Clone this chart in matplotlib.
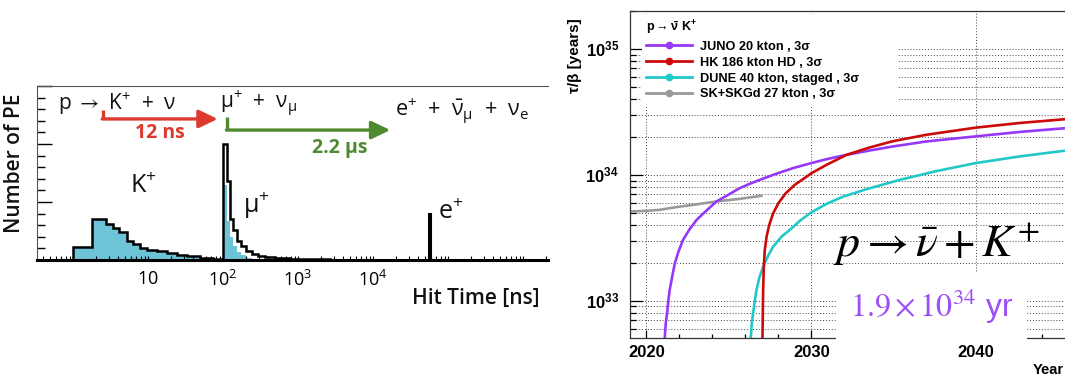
import numpy as np
import matplotlib
matplotlib.use('Agg')
import matplotlib.pyplot as plt
from matplotlib.lines import Line2D
from matplotlib.ticker import FixedLocator, LogLocator, MultipleLocator, NullFormatter, FuncFormatter

plt.rcParams['mathtext.fontset'] = 'custom'
plt.rcParams['mathtext.rm'] = 'Open Sans'
plt.rcParams['mathtext.it'] = 'Open Sans:italic'
plt.rcParams['mathtext.bf'] = 'Liberation Sans:bold'
plt.rcParams['mathtext.fallback'] = 'stixsans'

# hit time spectrum of one K+ decay event (time in ns, PE in arbitrary units)
hit_edges = [1.0, 1.77, 2.73, 3.44, 4.14, 5.2, 6.25, 7.8, 9.6, 13.1, 17.8, 24.1, 32.8, 49.4, 74, 100,
             112, 123, 135, 152, 172, 201, 241, 290, 360, 489, 774, 1430, 2640]
pe_total = [1.1, 3.55, 3.1, 2.8, 2.4, 1.6, 1.35, 1.05, 0.9, 0.75, 0.6, 0.45, 0.35, 0.2, 0.12,
            10.0, 6.8, 3.5, 2.6, 1.6, 1.2, 0.8, 0.55, 0.35, 0.25, 0.15, 0.1, 0.06]
pe_kaon = [1.1, 3.55, 3.1, 2.8, 2.4, 1.6, 1.35, 1.05, 0.9, 0.72, 0.55, 0.4, 0.28, 0.12, 0.05,
           6.5, 3.4, 2.0, 1.2, 0.7, 0.4, 0.2, 0.08, 0, 0, 0, 0, 0]
e_edges = [56000, 58500]
e_pe = [4.0]

# sensitivity to p -> nubar K+ (calendar year, tau/B in years)
juno_year = [2021.08, 2021.11, 2021.17, 2021.25, 2021.33, 2021.41, 2021.56, 2021.72, 2021.94,
             2022.22, 2022.59, 2023.04, 2023.58, 2024.25, 2024.96, 2025.66, 2026.27, 2026.88,
             2027.89, 2028.9, 2030.02, 2030.93, 2032.14, 2033.56, 2034.97, 2037.0, 2040.0,
             2042.67, 2045.5]
juno_tau = [4.0e32, 5.08e32, 6.61e32, 7.94e32, 1.01e33, 1.22e33, 1.55e33, 1.98e33, 2.45e33,
            3.04e33, 3.65e33, 4.38e33, 5.11e33, 6.14e33, 6.93e33, 7.83e33, 8.48e33, 9.12e33,
            1.02e34, 1.13e34, 1.24e34, 1.33e34, 1.44e34, 1.56e34, 1.68e34, 1.84e34, 2.02e34,
            2.19e34, 2.35e34]
hk_year = [2027.02, 2027.04, 2027.06, 2027.08, 2027.12, 2027.18, 2027.29, 2027.45, 2027.69,
           2028.01, 2028.46, 2029.0, 2030.02, 2030.93, 2032.14, 2033.56, 2034.97, 2037.0,
           2040.0, 2042.67, 2045.5]
hk_tau = [4.0e32, 5.08e32, 7.94e32, 1.22e33, 1.86e33, 2.53e33, 3.23e33, 4.0e33, 4.95e33,
          5.96e33, 7.15e33, 8.32e33, 1.03e34, 1.2e34, 1.44e34, 1.65e34, 1.85e34, 2.08e34,
          2.37e34, 2.58e34, 2.77e34]
dune_year = [2026.3, 2026.33, 2026.39, 2026.47, 2026.58, 2026.68, 2026.84, 2027.08, 2027.38,
             2027.69, 2028.2, 2028.7, 2029.31, 2029.92, 2030.93, 2031.94, 2033.36, 2035.38,
             2037.6, 2040.0, 2042.67, 2045.5]
dune_tau = [4.0e32, 5.08e32, 6.61e32, 7.94e32, 1.01e33, 1.22e33, 1.51e33, 1.86e33, 2.27e33,
            2.69e33, 3.23e33, 3.65e33, 4.31e33, 4.95e33, 5.88e33, 6.71e33, 7.69e33, 9.12e33,
            1.07e34, 1.24e34, 1.4e34, 1.56e34]
sk_year = [2018.9, 2020.0, 2020.81, 2021.82, 2022.83, 2024.25, 2025.67, 2026.98]
sk_tau = [5.1e33, 5.17e33, 5.27e33, 5.54e33, 5.77e33, 6.14e33, 6.44e33, 6.81e33]

fig = plt.figure(figsize=(10.65, 3.81), dpi=100)

# ---------------- left: hit time ----------------
ax1 = fig.add_axes([37 / 1065, 1 - 260 / 381, 511 / 1065, 174 / 381])
ax1.set_xscale('log')
ax1.set_xlim(0.331, 2.15e6)
ax1.set_ylim(0, 15)

cyan = '#6cc4d6'
ax1.stairs(pe_kaon, hit_edges, fill=True, color=cyan, lw=0)
ax1.stairs(pe_total, hit_edges, color='black', lw=1.8)
ax1.stairs(e_pe, e_edges, color='black', lw=1.5)

for s in ['top', 'left', 'right']:
    ax1.spines[s].set_color('#555555')
    ax1.spines[s].set_linewidth(0.8)
ax1.spines['right'].set_visible(False)
ax1.spines['bottom'].set_linewidth(2.2)

ax1.xaxis.set_major_locator(FixedLocator([1, 10, 100, 1e3, 1e4, 1e5, 1e6]))
ax1.xaxis.set_minor_locator(LogLocator(base=10, subs=np.arange(2, 10)))
ax1.xaxis.set_minor_formatter(NullFormatter())


def hit_label(v, pos):
    n = int(round(np.log10(v)))
    if n == 1:
        return r'$\mathrm{10}$'
    if 2 <= n <= 4:
        return r'$\mathrm{10^{%d}}$' % n
    return ''


ax1.xaxis.set_major_formatter(FuncFormatter(hit_label))
ax1.tick_params(axis='x', which='both', direction='in', length=3, width=0.8, pad=7,
                labelsize=13)
ax1.yaxis.set_major_locator(MultipleLocator(5))
ax1.yaxis.set_minor_locator(MultipleLocator(1))
ax1.tick_params(axis='y', which='major', direction='in', length=11, width=1.0, labelleft=False)
ax1.tick_params(axis='y', which='minor', direction='in', length=5.5, width=1.0)

lf = dict(family='Open Sans', color='#111111')
ax1.text(0.63, 13.5, r'p $\rightarrow$ $\mathrm{K^{+}}$  +  ν', fontsize=15, ha='left', va='center', **lf)
ax1.text(91, 13.5, r'$\mathrm{\mu^{+}}$  +  $\mathrm{\nu_{\mu}}$', fontsize=15, ha='left', va='center', **lf)
ax1.text(19600, 12.8, r'$\mathrm{e^{+}}$  +  $\mathrm{\bar{\nu}_{\mu}}$  +  $\mathrm{\nu_{e}}$',
         fontsize=15.5, ha='left', va='center', **lf)
ax1.text(5.75, 6.3, r'$\mathrm{K^{+}}$', fontsize=18, ha='left', va='center', **lf)
ax1.text(185, 4.7, r'$\mathrm{\mu^{+}}$', fontsize=18, ha='left', va='center', **lf)
ax1.text(73600, 4.1, r'$\mathrm{e^{+}}$', fontsize=18, ha='left', va='center', **lf)

red = '#dc3a2e'
green = '#4f8a30'
head = '-|>,head_length=1.15,head_width=0.55'
ax1.plot([2.5, 2.5], [12.9, 12.16], color=red, lw=2.4, solid_capstyle='butt')
ax1.annotate('', xy=(85, 12.16), xytext=(2.45, 12.16),
             arrowprops=dict(arrowstyle=head, color=red, lw=2.4, shrinkA=0, shrinkB=0))
ax1.text(14.5, 10.95, '12 ns', color=red, fontsize=14, fontweight='bold', family='Open Sans',
         ha='center', va='center')
ax1.plot([113, 113], [12.3, 11.2], color=green, lw=2.4, solid_capstyle='butt')
ax1.annotate('', xy=(17000, 11.2), xytext=(111, 11.2),
             arrowprops=dict(arrowstyle=head, color=green, lw=2.4, shrinkA=0, shrinkB=0))
ax1.text(3630, 9.66, '2.2 μs', color=green, fontsize=14, fontweight='bold', family='Open Sans',
         ha='center', va='center')

fig.text(15 / 1065, 1 - 163 / 381, 'Number of PE', rotation=90, ha='center', va='center',
         fontsize=15, family='Open Sans', fontweight='semibold', color='#111111')
fig.text(540 / 1065, 1 - 298 / 381, 'Hit Time [ns]', ha='right', va='center',
         fontsize=15, family='Open Sans', fontweight='semibold', color='#111111')

# ---------------- right: sensitivity ----------------
ax2 = fig.add_axes([630 / 1065, 1 - 338 / 381, 437.5 / 1065, 327 / 381])
ax2.set_yscale('log')
ax2.set_xlim(2019, 2045.55)
ax2.set_ylim(5.05e32, 2.0e35)
ax2.set_axisbelow(True)

gkw = dict(color='#444444', linestyle=(0, (1, 2)), linewidth=0.7)
ax2.yaxis.grid(True, which='both', **gkw)
ax2.xaxis.grid(True, which='major', **gkw)

c_juno, c_hk, c_dune, c_sk = '#9638f8', '#cc0a0a', '#22c8c8', '#999999'
ax2.plot(sk_year, sk_tau, color=c_sk, lw=1.9, zorder=2)
ax2.plot(juno_year, juno_tau, color=c_juno, lw=1.9, zorder=2)
ax2.plot(dune_year, dune_tau, color=c_dune, lw=1.9, zorder=2)
ax2.plot(hk_year, hk_tau, color=c_hk, lw=1.9, zorder=2)

ax2.xaxis.set_major_locator(MultipleLocator(10))
ax2.xaxis.set_minor_locator(MultipleLocator(2))
ax2.yaxis.set_major_locator(LogLocator(base=10, numticks=10))
ax2.yaxis.set_minor_locator(LogLocator(base=10, subs=np.arange(2, 10), numticks=20))
ax2.yaxis.set_minor_formatter(NullFormatter())
ax2.yaxis.set_major_formatter(FuncFormatter(lambda v, p: r'$\mathbf{10^{%d}}$' % round(np.log10(v))))
ax2.tick_params(axis='y', which='major', direction='in', length=9, width=0.9, pad=8, labelsize=12)
ax2.tick_params(axis='y', which='minor', direction='in', length=4.5, width=0.9)
ax2.tick_params(axis='x', which='major', direction='in', length=6, width=0.9, pad=5, labelsize=12)
ax2.tick_params(axis='x', which='minor', direction='in', length=3, width=0.9)
for lab in ax2.get_xticklabels():
    lab.set_family('Liberation Sans')
    lab.set_fontweight('bold')
for s in ['top', 'left', 'bottom']:
    ax2.spines[s].set_color('#333333')
    ax2.spines[s].set_linewidth(0.9)
ax2.spines['right'].set_visible(False)

handles = [Line2D([], [], color=c, lw=2, marker='o', markersize=4.5)
           for c in (c_juno, c_hk, c_dune, c_sk)]
labels = ['JUNO 20 kton , 3σ', 'HK 186 kton HD , 3σ', 'DUNE 40 kton, staged , 3σ',
          'SK+SKGd 27 kton , 3σ']
leg = ax2.legend(handles, labels, loc='upper left', mode='expand',
                 bbox_to_anchor=(12 / 437.5, 0, 256 / 437.5, 0.99),
                 title=r'$\mathbf{p \rightarrow \bar{\nu}\ K^{+}}$', alignment='left',
                 prop=dict(family='Liberation Sans', weight='bold', size=9.2),
                 title_fontproperties=dict(family='Liberation Sans', weight='bold', size=9),
                 frameon=True, fancybox=False, edgecolor='none', facecolor='white', framealpha=1,
                 borderaxespad=0, borderpad=0.35, handlelength=3.6, handletextpad=0.6,
                 labelspacing=0.3)

ax2.text(2031.31, 2.77e33, r'$p \rightarrow \bar{\nu} + K^{+}$', fontsize=33, math_fontfamily='stix',
         ha='left', va='center', color='black')
ax2.text(2032.35, 8.9e32, r'$\mathrm{1.9\times10^{34}}$ yr', fontsize=23, math_fontfamily='stix',
         family='Liberation Sans', ha='left', va='center', color='#9b4ff6', zorder=3,
         bbox=dict(boxstyle='square,pad=0.45', fc='white', ec='none'))

fig.text(575 / 1065, 1 - 18 / 381, 'τ/β [years]', rotation=90, ha='center', va='top',
         fontsize=11, family='Liberation Sans', fontweight='bold')
fig.text(0.999, 1 - 370 / 381, 'Year', ha='right', va='center',
         fontsize=10.5, family='Liberation Sans', fontweight='bold')

fig.savefig('out.png', dpi=100)
